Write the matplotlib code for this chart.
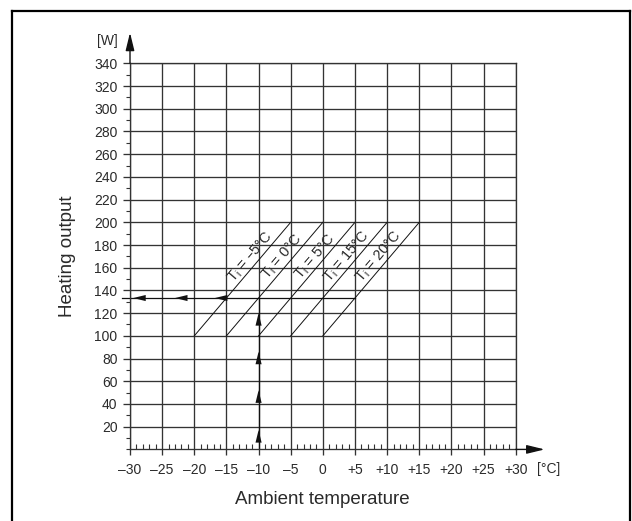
import numpy as np
import matplotlib
matplotlib.use("Agg")
import matplotlib.pyplot as plt
from matplotlib.ticker import MultipleLocator
from matplotlib.lines import Line2D

plt.rcParams["font.family"] = ["Liberation Sans", "DejaVu Sans"]

# chart data
x_ticks = [-30, -25, -20, -15, -10, -5, 0, 5, 10, 15, 20, 25, 30]
x_labels = ["–30", "–25", "–20", "–15", "–10", "–5", "0", "+5", "+10", "+15", "+20", "+25", "+30"]
y_ticks = [20, 40, 60, 80, 100, 120, 140, 160, 180, 200, 220, 240, 260, 280, 300, 320, 340]

ti_labels = ["–5", "0", "5", "15", "20"]
ti_x_low = [-20, -15, -10, -5, 0]     # at 100 W
ti_x_high = [-5, 0, 5, 10, 15]        # at 200 W
ti_y_low = 100
ti_y_high = 200

# reading example: ambient -10 °C, T_i = 0 °C
read_x = -10
read_y = 133.3
read_x_end = 5
up_arrows = [17, 52, 86, 120]
left_arrows = [-29.5, -23, -16.8]

grid_col = "#333333"
text_col = "#2a2a2a"

fig = plt.figure(figsize=(6.32, 5.21), dpi=100)
ax = fig.add_axes([0.2057, 0.1374, 0.6103, 0.7411])
ax.set_xlim(-30, 30)
ax.set_ylim(0, 340)

ax.set_xticks(x_ticks)
ax.set_xticklabels(x_labels)
ax.set_yticks(y_ticks)
ax.xaxis.set_minor_locator(MultipleLocator(1))
ax.yaxis.set_minor_locator(MultipleLocator(10))
ax.grid(True, which="major", color=grid_col, lw=0.95)
ax.set_axisbelow(True)

ax.tick_params(axis="x", which="major", direction="out", length=4, width=0.95,
               color=grid_col, labelsize=10, labelcolor=text_col, pad=6)
ax.tick_params(axis="x", which="minor", direction="in", length=3.5, width=0.8,
               color=grid_col)
ax.tick_params(axis="y", which="major", direction="out", length=5, width=0.95,
               color=grid_col, labelsize=10, labelcolor=text_col, pad=4)
ax.tick_params(axis="y", which="minor", direction="out", length=3, width=0.8,
               color=grid_col)
for s in ax.spines.values():
    s.set_color(grid_col)
    s.set_linewidth(0.95)

# axis arrows
arrow_kw = dict(arrowstyle="-|>,head_length=0.9,head_width=0.22", color="#111111",
                lw=1.0, mutation_scale=12, shrinkA=0, shrinkB=0)
ax.annotate("", xy=(-30, 367), xytext=(-30, 340), arrowprops=arrow_kw, annotation_clip=False)
ax.annotate("", xy=(34.5, 0), xytext=(30, 0), arrowprops=arrow_kw, annotation_clip=False)

# T_i lines
for lab, x0, x1 in zip(ti_labels, ti_x_low, ti_x_high):
    ax.plot([x0, x1], [ti_y_low, ti_y_high], color="#111111", lw=0.7)

p0 = ax.transData.transform((ti_x_low[0], ti_y_low))
p1 = ax.transData.transform((ti_x_high[0], ti_y_high))
angle = np.degrees(np.arctan2(p1[1] - p0[1], p1[0] - p0[0]))
for lab, x0, x1 in zip(ti_labels, ti_x_low, ti_x_high):
    yy = 165
    xx = x0 + (x1 - x0) * (yy - ti_y_low) / (ti_y_high - ti_y_low)
    ax.text(xx, yy, r"T$_\mathregular{i}$ = " + lab + "°C", rotation=angle,
            rotation_mode="anchor", ha="center", va="bottom", fontsize=10.5,
            color=text_col)

# reading lines
ax.plot([-31.2, read_x_end], [read_y, read_y], color="#111111", lw=0.9, clip_on=False)
ax.plot([read_x, read_x], [0, read_y], color="#111111", lw=0.9)
head_kw = dict(arrowstyle="-|>,head_length=0.9,head_width=0.22", color="#111111",
               lw=0, mutation_scale=10, shrinkA=0, shrinkB=0)
for xa in left_arrows:
    ax.annotate("", xy=(xa, read_y), xytext=(xa + 1.5, read_y), arrowprops=head_kw,
                annotation_clip=False)
for ya in up_arrows:
    ax.annotate("", xy=(read_x, ya), xytext=(read_x, ya - 9), arrowprops=head_kw)

# unit labels and axis titles
fig.text(107 / 632, 1 - 41 / 521, "[W]", ha="center", va="center", fontsize=10, color=text_col)
fig.text(549 / 632, 1 - 469 / 521, "[°C]", ha="center", va="center", fontsize=10, color=text_col)
fig.text(322 / 632, 1 - 500 / 521, "Ambient temperature", ha="center", va="center",
         fontsize=13.5, color=text_col)
fig.text(67 / 632, 1 - 256 / 521, "Heating output", ha="center", va="center",
         rotation=90, fontsize=13.5, color=text_col)

# outer frame (open at the bottom)
fr = dict(color="black", lw=1.6, transform=fig.transFigure)
fig.add_artist(Line2D([12 / 632, 12 / 632], [0, 1 - 11 / 521], **fr))
fig.add_artist(Line2D([630 / 632, 630 / 632], [0, 1 - 11 / 521], **fr))
fig.add_artist(Line2D([12 / 632, 630 / 632], [1 - 11 / 521, 1 - 11 / 521], **fr))

fig.savefig("out.png", dpi=100)
